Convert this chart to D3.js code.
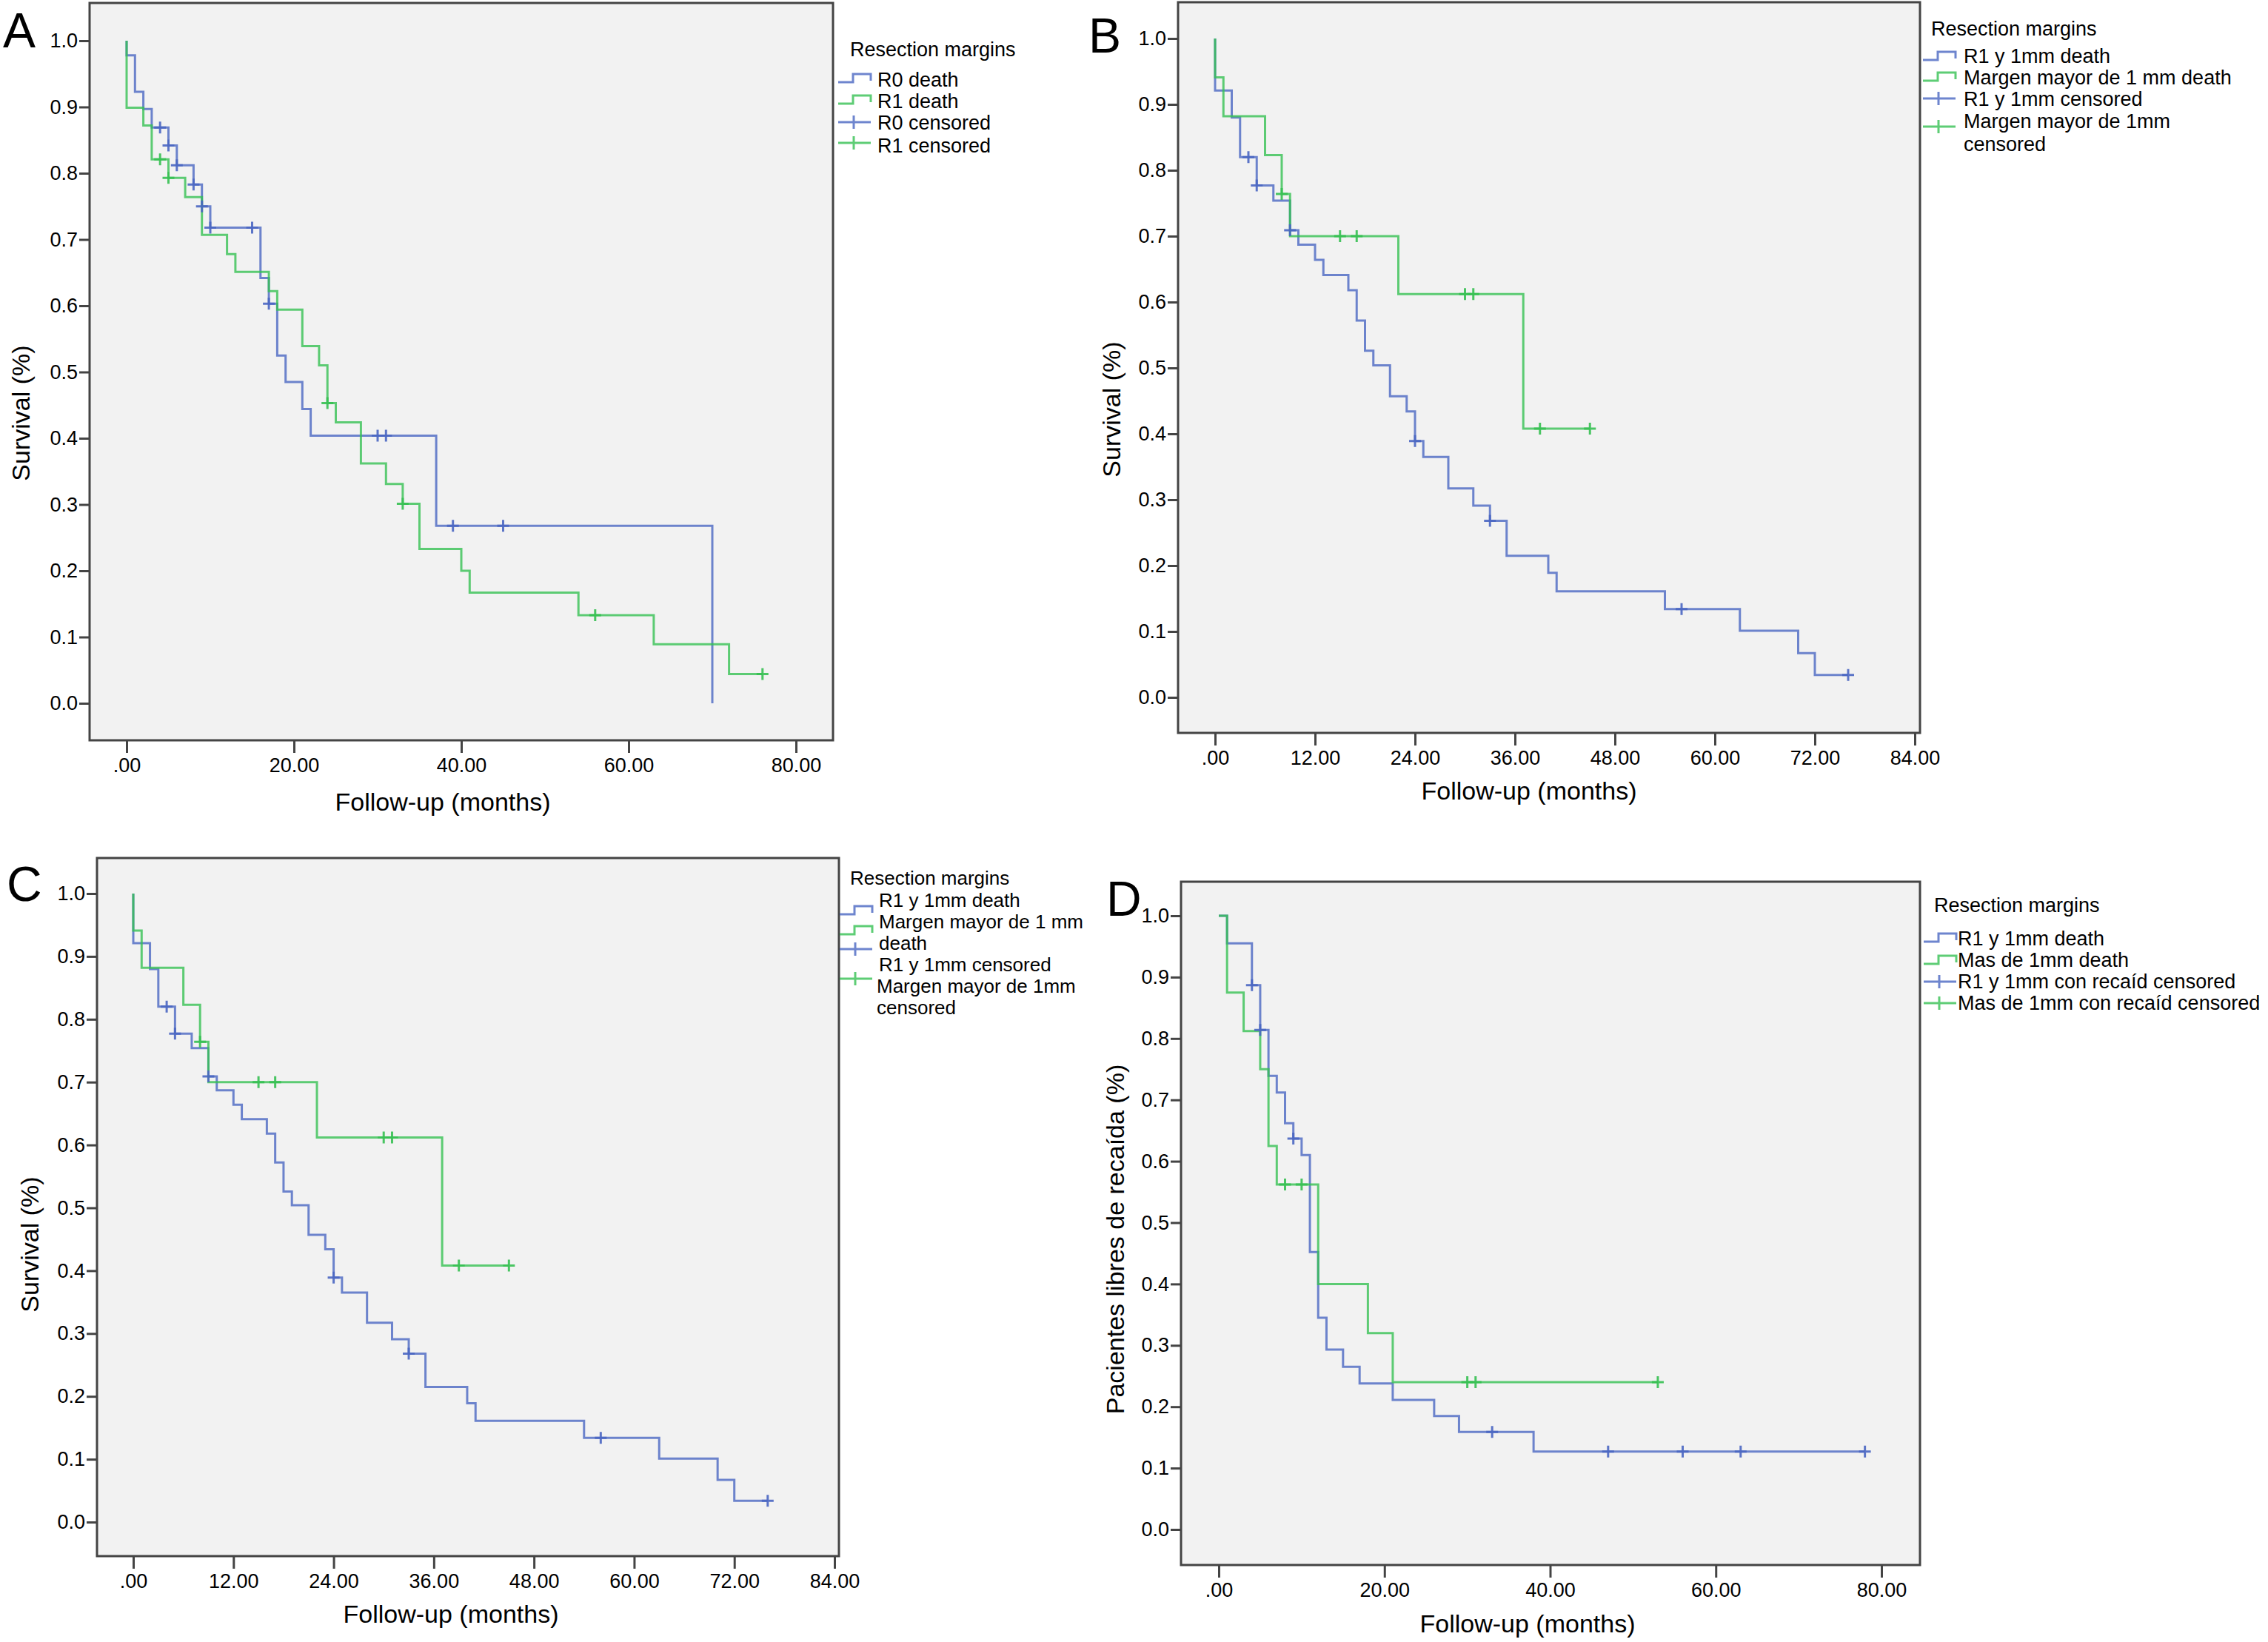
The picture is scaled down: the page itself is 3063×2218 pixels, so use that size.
<!DOCTYPE html>
<html>
<head>
<meta charset="utf-8">
<script src="https://cdn.jsdelivr.net/npm/d3@7"></script>
<style>
  body { margin: 0; background: #fff; }
  text { font-family: "Liberation Sans", Arial, sans-serif; fill: #000; }
</style>
</head>
<body>
<svg id="fig" width="3063" height="2218"></svg>
<script>
// ---- data (time in months, survival after each drop) ----

// panel A
const aR0Times = [0, 1, 2, 3, 5, 6, 8, 9, 10, 16, 17, 18, 19, 21, 22, 37, 70];
const aR0Surv  = [0.978, 0.923, 0.897, 0.869, 0.842, 0.812, 0.783, 0.750, 0.718, 0.642, 0.603, 0.525, 0.485, 0.444, 0.404, 0.268, 0.0];
const aR0Cens  = [4, 5, 6, 8, 9, 10, 15, 17, 30, 31, 39, 45];
const aR1Times = [0, 2, 3, 5, 7, 9, 12, 13, 17, 18, 21, 23, 24, 25, 28, 31, 33, 35, 40, 41, 54, 63, 72];
const aR1Surv  = [0.899, 0.872, 0.821, 0.793, 0.764, 0.707, 0.678, 0.651, 0.622, 0.594, 0.539, 0.510, 0.453, 0.424, 0.362, 0.331, 0.301, 0.233, 0.200, 0.167, 0.133, 0.089, 0.044];
const aR1Cens  = [4, 5, 24, 33, 56, 76];

// panels B and C (same data)
const bR1Times  = [0, 2, 3, 5, 7, 9, 10, 12, 13, 16, 17, 18, 19, 21, 23, 24, 25, 28, 31, 33, 35, 40, 41, 54, 63, 70, 72];
const bR1Surv   = [0.921, 0.880, 0.820, 0.777, 0.754, 0.709, 0.687, 0.664, 0.641, 0.618, 0.572, 0.526, 0.504, 0.457, 0.434, 0.389, 0.365, 0.317, 0.291, 0.268, 0.215, 0.189, 0.161, 0.134, 0.101, 0.067, 0.034];
const bR1Cens   = [4, 5, 9, 24, 33, 56, 76];
const bMarTimes = [0, 1, 6, 8, 9, 22, 37];
const bMarSurv  = [0.941, 0.882, 0.823, 0.764, 0.700, 0.612, 0.408];
const bMarCens  = [8, 15, 17, 30, 31, 39, 45];

// panel D
const dR1Times  = [1, 4, 5, 6, 7, 8, 9, 10, 11, 12, 13, 15, 17, 21, 26, 29, 38];
const dR1Surv   = [0.955, 0.887, 0.814, 0.739, 0.712, 0.662, 0.637, 0.610, 0.452, 0.345, 0.293, 0.265, 0.238, 0.211, 0.185, 0.159, 0.127];
const dR1Cens   = [4, 5, 9, 33, 47, 56, 63, 78];
const dMasTimes = [1, 3, 5, 6, 7, 12, 18, 21];
const dMasSurv  = [0.875, 0.812, 0.750, 0.625, 0.562, 0.400, 0.320, 0.240];
const dMasCens  = [8, 10, 30, 31, 53];

// tick values
const yTicks   = [0, 0.1, 0.2, 0.3, 0.4, 0.5, 0.6, 0.7, 0.8, 0.9, 1.0];
const xTicks80 = [0, 20, 40, 60, 80];
const xTicks84 = [0, 12, 24, 36, 48, 60, 72, 84];

const legendTitle = "Resection margins";
const xTitle = "Follow-up (months)";

const blue = "#4a66c2", green = "#36c052";

let svg = d3.select("svg#fig");

function survAt(times, vals, t) {
  let s = 1;
  for (let i = 0; i < times.length; i++) if (times[i] <= t) s = vals[i];
  return s;
}

function kmPath(times, vals, cens, x, y) {
  let end = Math.max(times[times.length - 1], d3.max(cens));
  let p = d3.path();
  let s = 1;
  p.moveTo(x(0), y(1));
  for (let i = 0; i < times.length; i++) {
    p.lineTo(x(times[i]), y(s));
    s = vals[i];
    p.lineTo(x(times[i]), y(s));
  }
  p.lineTo(x(end), y(s));
  return p.toString();
}

const panels = [
  { letter: "A", lx: 4, ly: 64, box: [121, 4, 1125, 1000], xr: [171, 1075], yr: [950, 55], xmax: 80, xticks: xTicks80,
    ytitle: "Survival (%)", ytx: 28, yty: 558, xtx: 598, xty: 1095,
    series: [
      { times: aR0Times, vals: aR0Surv, cens: aR0Cens, color: blue },
      { times: aR1Times, vals: aR1Surv, cens: aR1Cens, color: green }],
    legend: { sx: 1132, tx: 1185, fs: 27, title: [1148, 76], items: [
      { kind: "step", color: blue, sy: 111, lines: [["R0 death", 117]] },
      { kind: "step", color: green, sy: 140, lines: [["R1 death", 146]] },
      { kind: "cens", color: blue, sy: 165, lines: [["R0 censored", 175]] },
      { kind: "cens", color: green, sy: 193, lines: [["R1 censored", 206]] }] } },
  { letter: "B", lx: 1470, ly: 71, box: [1591, 3, 2593, 990], xr: [1641, 2586], yr: [942, 52], xmax: 84, xticks: xTicks84,
    ytitle: "Survival (%)", ytx: 1501, yty: 553, xtx: 2065, xty: 1080,
    series: [
      { times: bR1Times, vals: bR1Surv, cens: bR1Cens, color: blue },
      { times: bMarTimes, vals: bMarSurv, cens: bMarCens, color: green }],
    legend: { sx: 2597, tx: 2652, fs: 27, title: [2608, 48], items: [
      { kind: "step", color: blue, sy: 81, lines: [["R1 y 1mm death", 85]] },
      { kind: "step", color: green, sy: 109, lines: [["Margen mayor de 1 mm death", 114]] },
      { kind: "cens", color: blue, sy: 133, lines: [["R1 y 1mm censored", 143]] },
      { kind: "cens", color: green, sy: 171, lines: [["Margen mayor de 1mm", 173], ["censored", 204]] }] } },
  { letter: "C", lx: 9, ly: 1217, box: [131, 1159, 1133, 2102], xr: [180, 1127], yr: [2056, 1207], xmax: 84, xticks: xTicks84,
    ytitle: "Survival (%)", ytx: 40, yty: 1681, xtx: 609, xty: 2192,
    series: [
      { times: bR1Times, vals: bR1Surv, cens: bR1Cens, color: blue },
      { times: bMarTimes, vals: bMarSurv, cens: bMarCens, color: green }],
    legend: { sx: 1134, tx: 1187, fs: 26, title: [1148, 1195], items: [
      { kind: "step", color: blue, sy: 1235, lines: [["R1 y 1mm death", 1225]] },
      { kind: "step", color: green, sy: 1262, lines: [["Margen mayor de 1 mm", 1254], ["death", 1283]] },
      { kind: "cens", color: blue, sy: 1282, lines: [["R1 y 1mm censored", 1312]] },
      { kind: "cens", color: green, sy: 1322, dx: -3, lines: [["Margen mayor de 1mm", 1341], ["censored", 1370]] }] } },
  { letter: "D", lx: 1494, ly: 1237, box: [1595, 1191, 2593, 2114], xr: [1646, 2541], yr: [2066, 1237], xmax: 80, xticks: xTicks80,
    ytitle: "Pacientes libres de recaída (%)", ytx: 1506, yty: 1674, xtx: 2063, xty: 2205,
    series: [
      { times: dR1Times, vals: dR1Surv, cens: dR1Cens, color: blue },
      { times: dMasTimes, vals: dMasSurv, cens: dMasCens, color: green }],
    legend: { sx: 2598, tx: 2644, fs: 27, title: [2612, 1232], items: [
      { kind: "step", color: blue, sy: 1272, lines: [["R1 y 1mm death", 1277]] },
      { kind: "step", color: green, sy: 1302, lines: [["Mas de 1mm death", 1306]] },
      { kind: "cens", color: blue, sy: 1326, lines: [["R1 y 1mm con recaíd censored", 1335]] },
      { kind: "cens", color: green, sy: 1355, lines: [["Mas de 1mm con recaíd censored", 1364]] }] } }
];

panels.forEach(function(p) {
  let g = svg.append("g");
  let x = d3.scaleLinear().domain([0, p.xmax]).range(p.xr);
  let y = d3.scaleLinear().domain([0, 1]).range(p.yr);
  let [bx0, by0, bx1, by1] = p.box;

  g.append("rect")
    .attr("x", bx0).attr("y", by0)
    .attr("width", bx1 - bx0).attr("height", by1 - by0)
    .attr("fill", "#f2f2f2");

  // curves
  p.series.forEach(function(s) {
    g.append("path")
      .attr("d", kmPath(s.times, s.vals, s.cens, x, y))
      .attr("fill", "none")
      .attr("stroke", s.color)
      .attr("stroke-opacity", 0.8)
      .attr("stroke-width", 3);
  });
  // censored marks
  p.series.forEach(function(s) {
    s.cens.forEach(function(t) {
      let cx = x(t), cy = y(survAt(s.times, s.vals, t));
      g.append("path")
        .attr("d", `M${cx - 8},${cy}H${cx + 8}M${cx},${cy - 8}V${cy + 8}`)
        .attr("fill", "none")
        .attr("stroke", s.color)
        .attr("stroke-opacity", 0.9)
        .attr("stroke-width", 3);
    });
  });

  // frame
  g.append("rect")
    .attr("x", bx0).attr("y", by0)
    .attr("width", bx1 - bx0).attr("height", by1 - by0)
    .attr("fill", "none")
    .attr("stroke", "#444")
    .attr("stroke-width", 3);

  // axes
  let yAxis = g.append("g")
    .attr("transform", `translate(${bx0},0)`)
    .call(d3.axisLeft(y).tickValues(yTicks).tickFormat(d3.format(".1f")).tickSize(14).tickPadding(2));
  let xAxis = g.append("g")
    .attr("transform", `translate(0,${by1})`)
    .call(d3.axisBottom(x).tickValues(p.xticks)
      .tickFormat(d => d === 0 ? ".00" : d3.format(".2f")(d))
      .tickSize(17).tickPadding(7));
  [yAxis, xAxis].forEach(function(a) {
    a.attr("font-size", 27);
    a.select(".domain").remove();
    a.selectAll(".tick line").attr("stroke", "#444").attr("stroke-width", 3);
    a.selectAll(".tick text").attr("fill", "#000");
  });

  // titles
  g.append("text")
    .attr("x", p.xtx).attr("y", p.xty)
    .attr("text-anchor", "middle")
    .attr("font-size", 34)
    .text(xTitle);
  g.append("text")
    .attr("transform", `translate(${p.ytx},${p.yty}) rotate(-90)`)
    .attr("dy", "0.35em")
    .attr("text-anchor", "middle")
    .attr("font-size", 34)
    .text(p.ytitle);
  g.append("text")
    .attr("x", p.lx).attr("y", p.ly)
    .attr("font-size", 66)
    .text(p.letter);

  // legend
  let lg = p.legend;
  g.append("text")
    .attr("x", lg.title[0]).attr("y", lg.title[1])
    .attr("font-size", lg.fs)
    .text(legendTitle);
  lg.items.forEach(function(it) {
    let sx = lg.sx, sy = it.sy, d;
    if (it.kind === "step") {
      d = `M${sx},${sy}H${sx + 20}V${sy - 11}H${sx + 44}V${sy - 2}`;
    } else {
      d = `M${sx},${sy}H${sx + 44}M${sx + 21},${sy - 9}V${sy + 9}`;
    }
    g.append("path")
      .attr("d", d)
      .attr("fill", "none")
      .attr("stroke", it.color)
      .attr("stroke-opacity", 0.8)
      .attr("stroke-width", 3);
    it.lines.forEach(function(ln) {
      g.append("text")
        .attr("x", lg.tx + (it.dx || 0)).attr("y", ln[1])
        .attr("font-size", lg.fs)
        .text(ln[0]);
    });
  });
});
</script>
</body>
</html>
